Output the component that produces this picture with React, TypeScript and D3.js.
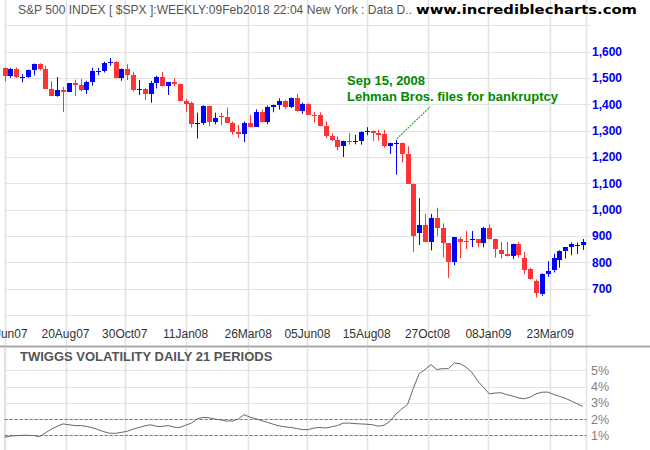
import React from "react";
import * as d3 from "d3";

// ---- data (weekly S&P 500 candles) ----
const weekDates = [
  "2007-06-08","2007-06-15","2007-06-22","2007-06-29","2007-07-06","2007-07-13","2007-07-20","2007-07-27",
  "2007-08-03","2007-08-10","2007-08-17","2007-08-24","2007-08-31","2007-09-07","2007-09-14","2007-09-21",
  "2007-09-28","2007-10-05","2007-10-12","2007-10-19","2007-10-26","2007-11-02","2007-11-09","2007-11-16",
  "2007-11-23","2007-11-30","2007-12-07","2007-12-14","2007-12-21","2007-12-28",
  "2008-01-04","2008-01-11","2008-01-18","2008-01-25","2008-02-01","2008-02-08","2008-02-15","2008-02-22",
  "2008-02-29","2008-03-07","2008-03-14","2008-03-21","2008-03-28","2008-04-04","2008-04-11","2008-04-18",
  "2008-04-25","2008-05-02","2008-05-09","2008-05-16","2008-05-23","2008-05-30","2008-06-06","2008-06-13",
  "2008-06-20","2008-06-27","2008-07-04","2008-07-11","2008-07-18","2008-07-25","2008-08-01","2008-08-08",
  "2008-08-15","2008-08-22","2008-08-29","2008-09-05","2008-09-12","2008-09-19","2008-09-26","2008-10-03",
  "2008-10-10","2008-10-17","2008-10-24","2008-10-31","2008-11-07","2008-11-14","2008-11-21","2008-11-28",
  "2008-12-05","2008-12-12","2008-12-19","2008-12-26",
  "2009-01-02","2009-01-09","2009-01-16","2009-01-23","2009-01-30","2009-02-06","2009-02-13","2009-02-20",
  "2009-02-27","2009-03-06","2009-03-13","2009-03-20","2009-03-27","2009-04-03","2009-04-10","2009-04-17",
  "2009-04-24","2009-05-01"
];

const openP = [
  1536.3,1507.7,1532.9,1502.6,1504.7,1530.4,1552.5,1534.1,1458.9,1433.1,1453.6,1445.9,1479.4,1474.0,1453.6,1484.3,
  1525.8,1526.8,1557.6,1561.8,1500.6,1535.3,1509.7,1453.7,1458.7,1440.7,1481.1,1504.7,1467.9,1484.5,
  1476.0,1414.0,1406.0,1325.2,1330.6,1395.4,1331.3,1355.9,1353.1,1330.6,1293.4,1288.1,1329.5,1315.2,1370.4,1332.8,
  1390.3,1397.8,1413.9,1388.3,1425.4,1375.9,1400.4,1360.7,1360.0,1317.9,1278.4,1262.9,1241.0,1260.7,1257.8,1260.3,
  1296.3,1298.2,1292.2,1287.8,1242.3,1251.7,1255.1,1213.3,1099.2,912.8,940.6,876.8,968.8,931.0,873.3,800.0,
  888.0,882.5,884.0,887.9,
  872.8,931.8,890.4,848.0,832.5,825.9,868.6,818.0,775.0,729.6,680.8,756.6,771.5,809.1,842.5,856.9,864.0,866.2
];

const highP = [
  1540.5,1538.7,1540.0,1514.3,1532.4,1555.1,1555.9,1547.2,1488.0,1503.9,1466.3,1481.5,1494.0,1496.4,1489.6,1538.7,
  1538.3,1561.9,1576.1,1563.4,1535.8,1552.8,1524.0,1492.1,1462.2,1488.9,1508.7,1523.6,1485.4,1498.9,
  1478.5,1420.4,1410.4,1368.6,1396.0,1395.4,1368.4,1367.9,1388.3,1335.1,1321.7,1335.0,1359.7,1380.9,1380.9,1395.9,
  1399.1,1422.7,1416.0,1425.9,1440.2,1406.3,1404.1,1370.6,1370.0,1335.6,1290.7,1278.6,1262.3,1291.2,1284.5,1297.4,
  1313.2,1300.7,1303.0,1303.0,1255.1,1265.1,1255.1,1241.0,1099.2,1044.3,985.4,984.4,1007.5,948.2,873.3,896.2,
  896.2,918.9,918.9,887.9,
  934.7,943.9,890.4,878.0,877.9,870.7,876.0,839.0,780.1,735.1,758.3,804.5,832.9,845.6,858.0,875.6,875.6,888.7
];

const lowP = [
  1487.4,1500.9,1500.5,1484.2,1500.2,1510.0,1529.0,1458.9,1433.1,1429.0,1370.6,1445.9,1432.0,1449.0,1439.3,1471.8,
  1510.8,1521.0,1546.7,1500.6,1489.6,1492.5,1448.8,1435.8,1416.9,1406.1,1460.7,1467.3,1435.6,1468.6,
  1411.2,1370.6,1312.0,1270.0,1322.4,1316.8,1324.0,1321.0,1330.6,1285.0,1272.7,1257.0,1312.8,1315.2,1331.4,1324.4,
  1370.0,1380.0,1383.0,1386.3,1373.0,1364.1,1359.9,1331.3,1316.6,1272.0,1260.7,1225.4,1200.4,1247.0,1248.0,1247.0,
  1282.9,1261.0,1262.4,1236.0,1212.0,1133.5,1179.0,1099.2,839.8,865.8,876.8,845.3,899.7,818.7,741.0,789.2,
  815.7,851.0,857.7,857.1,
  857.1,888.3,818.0,814.0,821.7,812.8,818.0,754.3,734.5,666.8,672.9,745.0,761.5,779.8,814.5,826.8,832.4,847.1
];

const closeP = [
  1507.7,1532.9,1502.6,1503.4,1530.4,1552.5,1534.1,1458.9,1433.1,1453.6,1445.9,1479.4,1474.0,1453.6,1484.3,1525.8,
  1526.8,1557.6,1561.8,1500.6,1535.3,1509.7,1453.7,1458.7,1440.7,1481.1,1504.7,1467.9,1484.5,1478.5,
  1411.6,1401.0,1325.2,1330.6,1395.4,1331.3,1350.0,1353.1,1330.6,1293.4,1288.1,1329.5,1315.2,1370.4,1332.8,1390.3,
  1397.8,1413.9,1388.3,1425.4,1375.9,1400.4,1360.7,1360.0,1317.9,1278.4,1262.9,1239.5,1260.7,1257.8,1260.3,1296.3,
  1298.2,1292.2,1282.8,1242.3,1251.7,1255.1,1213.3,1099.2,899.2,940.6,876.8,968.8,931.0,873.3,800.0,896.2,
  876.1,879.7,887.9,872.8,
  931.8,890.4,850.1,832.0,825.9,868.6,826.8,770.1,735.1,683.4,756.6,768.5,815.9,842.5,856.6,869.6,866.2,877.5
];

// Twiggs Volatility (%), one reading per week
const volatility = [
  0.88,0.95,0.98,1.0,1.0,0.98,0.92,1.15,1.38,1.55,1.7,1.65,1.6,1.6,1.55,1.47,
  1.35,1.22,1.13,1.12,1.18,1.25,1.38,1.48,1.58,1.65,1.55,1.55,1.6,1.5,
  1.48,1.62,1.75,2.02,2.1,2.08,2.0,1.95,1.88,1.88,2.0,2.27,2.12,2.02,1.9,1.8,
  1.68,1.58,1.52,1.48,1.42,1.35,1.35,1.45,1.48,1.45,1.52,1.6,1.75,1.75,1.72,1.7,
  1.68,1.65,1.56,1.62,1.86,2.3,2.62,2.9,3.9,4.8,5.05,5.35,5.05,5.1,5.1,5.45,
  5.4,5.2,4.88,4.35,
  3.95,3.55,3.6,3.62,3.5,3.42,3.3,3.25,3.35,3.55,3.65,3.66,3.52,3.4,3.28,3.12,2.95,2.78
];

const priceTicks = [700, 800, 900, 1000, 1100, 1200, 1300, 1400, 1500, 1600];
const priceGrid = [600, 700, 800, 900, 1000, 1100, 1200, 1300, 1400, 1500, 1600, 1700];
const dateTicks = [
  "2007-06-08","2007-08-20","2007-10-30","2008-01-11","2008-03-26",
  "2008-06-05","2008-08-15","2008-10-27","2009-01-08","2009-03-23"
];
const volTicks = [1, 2, 3, 4, 5];
const volDashed = [1, 2];

const headerText = "S&P 500 INDEX [ $SPX ]:WEEKLY:09Feb2018 22:04 New York : Data D..";
const siteText = "www.incrediblecharts.com";
const noteDate = "Sep 15, 2008";
const noteText = "Lehman Bros. files for bankruptcy";
const noteWeek = "2008-09-19";
const noteLevel = 1262;
const volTitle = "TWIGGS VOLATILITY DAILY 21 PERIODS";

const parse = d3.timeParse("%Y-%m-%d");
const fmtDate = d3.timeFormat("%d%b%y");
const fmtPrice = d3.format(",");

const FONT = "'Liberation Sans', Arial, Helvetica, sans-serif";

export default function App() {
  const W = 650;
  const H = 450;
  const left = 4.7;
  const right = 586.5;
  const priceBottom = 345;
  const volTop = 348;

  const x = d3
    .scaleTime()
    .domain([parse("2007-08-20") as Date, parse("2009-03-23") as Date])
    .range([65.5, 550.2]);
  const y = d3.scaleLinear().domain([700, 1600]).range([288.7, 51.7]);
  const yv = d3.scaleLinear().domain([1, 5]).range([435.3, 370.3]);

  const dates = weekDates.map((d) => parse(d) as Date);
  const red = "#FF3333";
  const blue = "#0000FF";
  const grid = "#E2E2E2";

  const volLine = d3
    .line<number>()
    .x((_, i) => x(dates[i]))
    .y((v) => yv(v))(volatility);

  const noteX = x(parse(noteWeek) as Date);
  const noteY = y(noteLevel);

  return (
    <svg width={W} height={H} style={{ display: "block", position: "absolute", left: 0, top: 0, background: "#fff" }}>
      <rect x={0} y={0} width={W} height={H} fill="#ffffff" />
      {/* vertical grid lines */}
      {dateTicks.map((d) => {
        const xx = Math.round(x(parse(d) as Date)) + 0.5;
        return (
          <g key={"vg" + d}>
            <line x1={xx} x2={xx} y1={0} y2={priceBottom} stroke={grid} strokeWidth={1.5} />
            <line x1={xx} x2={xx} y1={volTop} y2={H} stroke={grid} strokeWidth={1.5} />
          </g>
        );
      })}
      <line x1={right} x2={right} y1={0} y2={H} stroke={grid} strokeWidth={1.5} />
      {/* horizontal price grid */}
      {priceGrid.map((p) => (
        <line key={"hg" + p} x1={left} x2={590} y1={Math.round(y(p)) + 0.5} y2={Math.round(y(p)) + 0.5} stroke={grid} strokeWidth={1.2} />
      ))}

      {/* header */}
      <text x={18} y={14} fontFamily={FONT} fontSize={12} fill="#555" textLength={394} lengthAdjust="spacingAndGlyphs">
        {headerText}
      </text>
      <text x={416} y={14} fontFamily="'DejaVu Sans', Verdana, sans-serif" fontWeight="bold" fontSize={13} fill="#000" textLength={221} lengthAdjust="spacingAndGlyphs">
        {siteText}
      </text>

      {/* candles */}
      {dates.map((d, i) => {
        const cx = Math.round(x(d));
        const o = openP[i];
        const c = closeP[i];
        const up = c >= o;
        const col = up ? blue : red;
        const yTop = Math.round(y(Math.max(o, c)));
        const yBot = Math.round(y(Math.min(o, c)));
        const hgt = Math.max(1, yBot - yTop);
        return (
          <g key={"c" + i}>
            <line x1={cx + 0.5} x2={cx + 0.5} y1={y(highP[i])} y2={y(lowP[i])} stroke={col} strokeWidth={1} />
            <rect x={cx - 2} y={yTop} width={5} height={hgt} fill={col} />
          </g>
        );
      })}

      {/* price axis labels */}
      {priceTicks.map((p) => (
        <text key={"pt" + p} x={592} y={y(p)} dy="0.36em" fontFamily={FONT} fontSize={12} fontWeight="bold" fill="#0000EE">
          {fmtPrice(p)}
        </text>
      ))}

      {/* date labels */}
      {dateTicks.map((d) => (
        <text key={"dt" + d} x={x(parse(d) as Date)} y={337.5} textAnchor="middle" fontFamily={FONT} fontSize={12} fill="#333">
          {fmtDate(parse(d) as Date)}
        </text>
      ))}

      {/* annotation */}
      <text x={347} y={85} fontFamily={FONT} fontSize={13} fontWeight="bold" fill="#008800">{noteDate}</text>
      <text x={347} y={101} fontFamily={FONT} fontSize={13} fontWeight="bold" fill="#008800">{noteText}</text>
      <line x1={noteX + 1} y1={noteY - 2} x2={430} y2={107} stroke="#33AA33" strokeWidth={1.2} strokeDasharray="2,1" />

      {/* separator */}
      <rect x={0} y={345.5} width={W} height={2} fill="#A8A8A8" />

      {/* volatility panel */}
      {volTicks.map((v) => (
        <line key={"vh" + v} x1={left} x2={right} y1={Math.round(yv(v)) + 0.5} y2={Math.round(yv(v)) + 0.5} stroke={grid} strokeWidth={1.2} />
      ))}
      <line x1={left} x2={left} y1={volTop} y2={H} stroke={grid} strokeWidth={1.5} />
      {volDashed.map((v) => (
        <line key={"vd" + v} x1={left} x2={right} y1={Math.round(yv(v)) + 0.5} y2={Math.round(yv(v)) + 0.5} stroke="#7070BB" strokeWidth={1} strokeDasharray="3,2" />
      ))}
      <path d={volLine ?? ""} fill="none" stroke="#666" strokeWidth={1} />
      {volTicks.map((v) => (
        <text key={"vt" + v} x={591} y={yv(v)} dy="0.36em" fontFamily={FONT} fontSize={12.5} fill="#808080">
          {v}%
        </text>
      ))}
      <text x={20} y={361} fontFamily={FONT} fontSize={13} fontWeight="bold" fill="#555">{volTitle}</text>
    </svg>
  );
}
